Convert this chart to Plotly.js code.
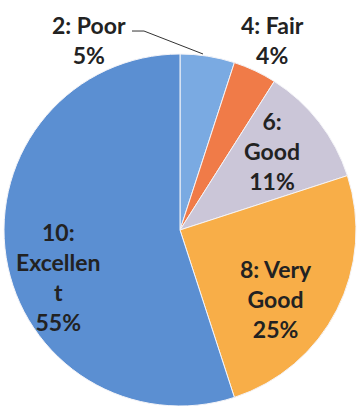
<!DOCTYPE html>
<html>
<head>
<meta charset="utf-8">
<script src="https://cdn.plot.ly/plotly-3.0.1.min.js"></script>
<style>html,body{margin:0;padding:0;background:#fff;}#chart{width:359px;height:406px;}</style>
</head>
<body>
<div id="chart"></div>
<script>
// Data
var categories = ["2: Poor", "4: Fair", "6: Good", "8: Very Good", "10: Excellent"];
var displayLabels = ["2: Poor", "4: Fair", "6:<br>Good", "8: Very<br>Good", "10:<br>Excellen<br>t"];
var shares = [5, 4, 11, 25, 55];
var sliceColors = ["#7aaae2", "#f07b48", "#cbc6d8", "#f8ae48", "#5b8fd2"];

// label centre positions (pixels) for each slice label
var labelPos = [[89, 40], [272, 40], [272, 151], [276, 299], [58, 277]];

var W = 359, H = 406;
var annotations = categories.map(function (c, i) {
  return {
    text: "<b>" + displayLabels[i] + "<br>" + shares[i] + "%</b>",
    x: labelPos[i][0] / W, y: 1 - labelPos[i][1] / H,
    xref: "paper", yref: "paper", xanchor: "center", yanchor: "middle",
    showarrow: false, align: "center",
    font: {family: "Lato, 'Open Sans', sans-serif", size: 23, color: "#222"}
  };
});

var cx = 180, cy = 230, r = 176;
var data = [{
  type: "pie",
  labels: categories,
  values: shares,
  sort: false,
  direction: "clockwise",
  rotation: 0,
  textinfo: "none",
  hoverinfo: "label+percent",
  marker: {colors: sliceColors, line: {color: "#f4f4f8", width: 1}},
  domain: {x: [(cx - r) / W, (cx + r) / W], y: [(H - (cy + r)) / H, (H - (cy - r)) / H]}
}];

function P(x, y) { return (x / W).toFixed(4) + "," + (1 - y / H).toFixed(4); }

var layout = {
  width: W, height: H,
  margin: {l: 0, r: 0, t: 0, b: 0},
  paper_bgcolor: "#ffffff",
  showlegend: false,
  annotations: annotations,
  shapes: [{
    type: "path", xref: "paper", yref: "paper",
    path: "M" + P(132, 31) + " L" + P(144, 31) + " L" + P(203, 54),
    line: {color: "#333", width: 1}
  }],
  font: {family: "Lato, sans-serif"}
};

Plotly.newPlot("chart", data, layout, {displayModeBar: false, staticPlot: true});
</script>
</body>
</html>
